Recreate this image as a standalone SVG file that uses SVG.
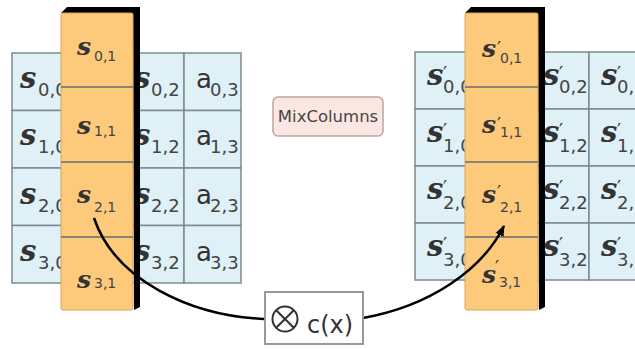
<svg xmlns="http://www.w3.org/2000/svg" width="635" height="349" viewBox="0 0 635 349">
<defs>
<style>
.cell{fill:#dff0f7;stroke:#7c8b91;stroke-width:1.5}
.org{fill:#fdca7c;stroke:#d9a55a;stroke-width:1}
.blk{fill:#000}
.sep{stroke:#8c8473;stroke-width:2}
.s{font-family:"DejaVu Serif",serif;font-style:italic;font-weight:bold;font-size:29px;fill:#333}
.so{font-size:25px}
.sub{font-family:"DejaVu Sans",sans-serif;font-size:18px;fill:#444}
.subo{font-size:14px}
.a{font-family:"DejaVu Sans",sans-serif;font-size:26px;fill:#333}
.pr{font-family:"DejaVu Serif",serif;font-size:18px;fill:#333}
.conn{fill:none;stroke:#000;stroke-width:2.5}
</style>
<marker id="ah" markerWidth="12" markerHeight="12" refX="10" refY="6" orient="auto" markerUnits="userSpaceOnUse">
<path d="M0,1.5 L11,6 L0,10.5 z" fill="#000"/>
</marker>
</defs>

<g id="left-grid">
<rect class="cell" x="12" y="53" width="57" height="57.5"/>
<rect class="cell" x="69" y="53" width="57.5" height="57.5"/>
<rect class="cell" x="126.5" y="53" width="57.5" height="57.5"/>
<rect class="cell" x="184" y="53" width="57" height="57.5"/>
<rect class="cell" x="12" y="110.5" width="57" height="57.5"/>
<rect class="cell" x="69" y="110.5" width="57.5" height="57.5"/>
<rect class="cell" x="126.5" y="110.5" width="57.5" height="57.5"/>
<rect class="cell" x="184" y="110.5" width="57" height="57.5"/>
<rect class="cell" x="12" y="168" width="57" height="57.5"/>
<rect class="cell" x="69" y="168" width="57.5" height="57.5"/>
<rect class="cell" x="126.5" y="168" width="57.5" height="57.5"/>
<rect class="cell" x="184" y="168" width="57" height="57.5"/>
<rect class="cell" x="12" y="225.5" width="57" height="57.5"/>
<rect class="cell" x="69" y="225.5" width="57.5" height="57.5"/>
<rect class="cell" x="126.5" y="225.5" width="57.5" height="57.5"/>
<rect class="cell" x="184" y="225.5" width="57" height="57.5"/>
<text class="s" x="20" y="88">s</text><text class="sub" x="38" y="96">0,0</text>
<text class="s" x="134" y="88">s</text><text class="sub" x="151" y="96">0,2</text>
<text class="a" x="196" y="88">a</text><text class="sub" x="210" y="96">0,3</text>
<text class="s" x="20" y="145">s</text><text class="sub" x="38" y="153">1,0</text>
<text class="s" x="134" y="145">s</text><text class="sub" x="151" y="153">1,2</text>
<text class="a" x="196" y="145">a</text><text class="sub" x="210" y="153">1,3</text>
<text class="s" x="20" y="204">s</text><text class="sub" x="38" y="212">2,0</text>
<text class="s" x="134" y="204">s</text><text class="sub" x="151" y="212">2,2</text>
<text class="a" x="196" y="204">a</text><text class="sub" x="210" y="212">2,3</text>
<text class="s" x="20" y="261">s</text><text class="sub" x="38" y="269">3,0</text>
<text class="s" x="134" y="261">s</text><text class="sub" x="151" y="269">3,2</text>
<text class="a" x="196" y="261">a</text><text class="sub" x="210" y="269">3,3</text>
</g>

<g id="left-column">
<polygon class="blk" points="61,13 67,7 140,7 140,307 134,310 133,13"/>
<rect class="org" x="61" y="13" width="72" height="297" rx="2"/>
<line class="sep" x1="61" y1="87" x2="133" y2="87"/>
<line class="sep" x1="61" y1="162" x2="133" y2="162"/>
<line class="sep" x1="61" y1="237" x2="133" y2="237"/>
<text class="s so" x="77" y="55">s</text><text class="sub subo" x="94" y="61">0,1</text>
<text class="s so" x="77" y="134">s</text><text class="sub subo" x="94" y="136">1,1</text>
<text class="s so" x="77" y="203">s</text><text class="sub subo" x="94" y="212">2,1</text>
<text class="s so" x="77" y="288">s</text><text class="sub subo" x="94" y="288">3,1</text>
</g>

<g id="right-grid">
<rect class="cell" x="415" y="52" width="58" height="57"/>
<rect class="cell" x="473" y="52" width="58" height="57"/>
<rect class="cell" x="531" y="52" width="58" height="57"/>
<rect class="cell" x="589" y="52" width="58" height="57"/>
<rect class="cell" x="415" y="109" width="58" height="57"/>
<rect class="cell" x="473" y="109" width="58" height="57"/>
<rect class="cell" x="531" y="109" width="58" height="57"/>
<rect class="cell" x="589" y="109" width="58" height="57"/>
<rect class="cell" x="415" y="166" width="58" height="57"/>
<rect class="cell" x="473" y="166" width="58" height="57"/>
<rect class="cell" x="531" y="166" width="58" height="57"/>
<rect class="cell" x="589" y="166" width="58" height="57"/>
<rect class="cell" x="415" y="223" width="58" height="57"/>
<rect class="cell" x="473" y="223" width="58" height="57"/>
<rect class="cell" x="531" y="223" width="58" height="57"/>
<rect class="cell" x="589" y="223" width="58" height="57"/>
<text class="s" x="427" y="85">s</text><text class="pr" x="443" y="80">′</text><text class="sub" x="443" y="93">0,0</text>
<text class="s" x="543" y="85">s</text><text class="pr" x="559" y="80">′</text><text class="sub" x="559" y="93">0,2</text>
<text class="s" x="601" y="85">s</text><text class="pr" x="617" y="80">′</text><text class="sub" x="617" y="93">0,3</text>
<text class="s" x="427" y="142">s</text><text class="pr" x="443" y="137">′</text><text class="sub" x="443" y="152">1,0</text>
<text class="s" x="543" y="142">s</text><text class="pr" x="559" y="137">′</text><text class="sub" x="559" y="152">1,2</text>
<text class="s" x="601" y="142">s</text><text class="pr" x="617" y="137">′</text><text class="sub" x="617" y="152">1,3</text>
<text class="s" x="427" y="199">s</text><text class="pr" x="443" y="194">′</text><text class="sub" x="443" y="209">2,0</text>
<text class="s" x="543" y="199">s</text><text class="pr" x="559" y="194">′</text><text class="sub" x="559" y="209">2,2</text>
<text class="s" x="601" y="199">s</text><text class="pr" x="617" y="194">′</text><text class="sub" x="617" y="209">2,3</text>
<text class="s" x="427" y="256">s</text><text class="pr" x="443" y="251">′</text><text class="sub" x="443" y="266">3,0</text>
<text class="s" x="543" y="256">s</text><text class="pr" x="559" y="251">′</text><text class="sub" x="559" y="266">3,2</text>
<text class="s" x="601" y="256">s</text><text class="pr" x="617" y="251">′</text><text class="sub" x="617" y="266">3,3</text>
</g>

<g id="right-column">
<polygon class="blk" points="465,13 471,7 545,7 545,307 539,310 538,13"/>
<rect class="org" x="465" y="13" width="73" height="297" rx="2"/>
<line class="sep" x1="465" y1="87" x2="538" y2="87"/>
<line class="sep" x1="465" y1="162" x2="538" y2="162"/>
<line class="sep" x1="465" y1="237" x2="538" y2="237"/>
<text class="s so" x="482" y="57">s</text><text class="pr" x="497" y="55">′</text><text class="sub subo" x="500" y="63">0,1</text>
<text class="s so" x="482" y="133">s</text><text class="pr" x="497" y="131">′</text><text class="sub subo" x="500" y="137">1,1</text>
<text class="s so" x="482" y="203">s</text><text class="pr" x="497" y="199">′</text><text class="sub subo" x="500" y="212">2,1</text>
<text class="s so" x="482" y="283">s</text><text class="pr" x="495" y="274">′</text><text class="sub subo" x="499" y="287">3,1</text>
</g>

<g id="mixcolumns">
<rect x="273" y="97" width="110" height="39" rx="5" fill="#fbe6e2" stroke="#b8a8a6" stroke-width="1.5"/>
<text x="328" y="122" text-anchor="middle" font-family="DejaVu Sans, sans-serif" font-size="16.5" fill="#444">MixColumns</text>
</g>

<g id="connectors">
<path class="conn" d="M94,218 C115,280 190,316 265,319"/>
<path class="conn" d="M363,318 C430,306 482,270 504,226" marker-end="url(#ah)"/>
</g>

<g id="cx">
<rect x="265" y="292" width="98" height="52" fill="#fff" stroke="#999" stroke-width="2"/>
<circle cx="285" cy="319" r="12.5" fill="none" stroke="#333" stroke-width="2"/>
<line x1="276.2" y1="310.2" x2="293.8" y2="327.8" stroke="#333" stroke-width="2"/>
<line x1="293.8" y1="310.2" x2="276.2" y2="327.8" stroke="#333" stroke-width="2"/>
<text x="307" y="333" font-family="DejaVu Sans, sans-serif" font-size="24" fill="#333">c(x)</text>
</g>
</svg>
